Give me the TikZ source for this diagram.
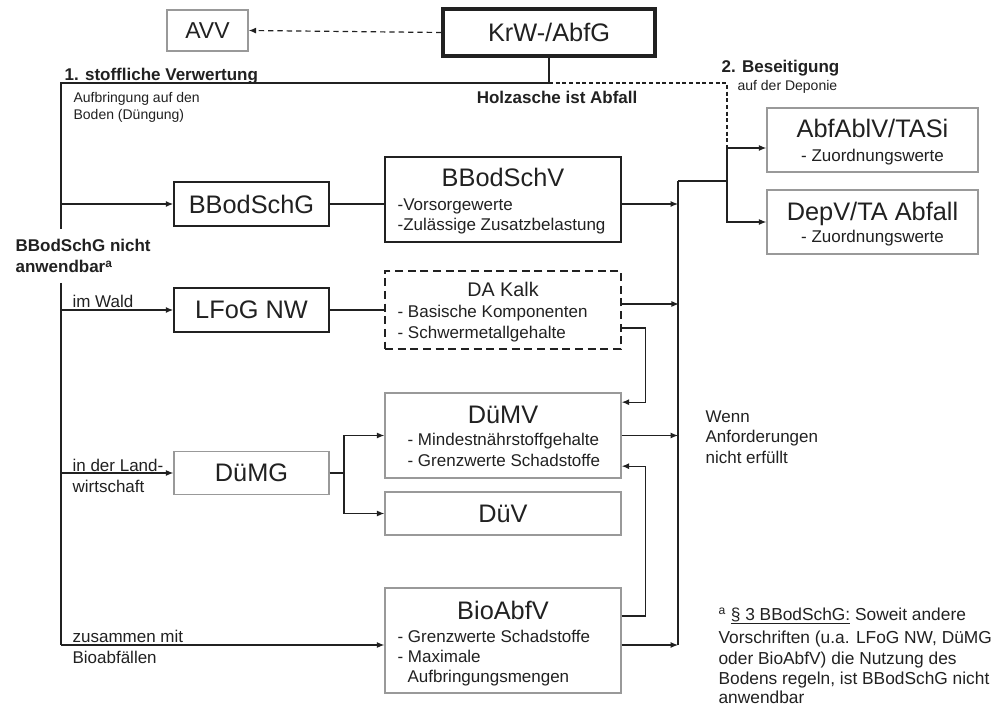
\documentclass[tikz,border=0pt]{standalone}
\usepackage{fontspec}
\setmainfont{Liberation Sans}
\usetikzlibrary{arrows.meta}
\definecolor{boxgray}{gray}{0.6}
\definecolor{inkgray}{gray}{0.13}
\begin{document}
\begin{tikzpicture}[x=0.75pt,y=-0.75pt,line width=0.9pt,color=inkgray,
	>={Latex[length=5.5pt,width=4.5pt]},
	lbox/.style={draw=boxgray,line width=1.1pt,inner sep=0pt},
	dbox/.style={draw=inkgray,line width=1.2pt,inner sep=0pt},
	txt/.style={anchor=base west,inner sep=0pt,font=\fontsize{12.75}{15}\selectfont},
	ctxt/.style={txt,anchor=base},
	big/.style={font=\fontsize{19}{23}\selectfont},
	bold/.style={font=\fontsize{12.75}{15}\selectfont\bfseries},
	small/.style={font=\fontsize{10.5}{13}\selectfont},
	note/.style={font=\fontsize{13}{16}\selectfont},
	dash1/.style={dash pattern=on 4pt off 3pt},
	dash2/.style={dash pattern=on 3pt off 2pt}]
\def\u{0.75pt}
\useasboundingbox[fill=white] (0,0) rectangle (1003,705);

% boxes
\node[lbox,font=\fontsize{17.25}{20}\selectfont,minimum width=81*\u,minimum height=41*\u] (avv) at (207.5,30.5) {AVV};
\node[dbox,line width=2.4pt,big,minimum width=212*\u,minimum height=47*\u] (krw) at (549,32.5) {KrW-/AbfG};
\node[lbox,minimum width=211*\u,minimum height=64*\u] (tasi) at (872.5,140) {};
\node[lbox,minimum width=211*\u,minimum height=64*\u] (depv) at (872.5,222) {};
\node[dbox,big,minimum width=155*\u,minimum height=44*\u] (bbg) at (251.5,204) {BBodSchG};
\node[dbox,minimum width=236*\u,minimum height=85*\u] (bbv) at (503,199.5) {};
\node[dbox,big,minimum width=155*\u,minimum height=44*\u] (lfog) at (251.5,310) {LFoG NW};
\node[dbox,dash pattern=on 6pt off 3.5pt,minimum width=236*\u,minimum height=78*\u] (kalk) at (503,310) {};
\node[lbox,minimum width=236*\u,minimum height=85*\u] (duemv) at (503,435.5) {};
\node[lbox,big,minimum width=155*\u,minimum height=43*\u] (duemg) at (251.5,473) {DüMG};
\node[lbox,big,minimum width=236*\u,minimum height=43*\u] (duev) at (503,513.5) {DüV};
\node[lbox,minimum width=236*\u,minimum height=105*\u] (bio) at (503,640.5) {};

% box texts
\node[ctxt,big] (tasiT) at (872.5,138) {AbfAblV/TASi};
\node[ctxt] (tasiA) at (872.5,162) {- Zuordnungswerte};
\node[ctxt,big] (depvT) at (872.5,221) {DepV/TA Abfall};
\node[ctxt] (depvA) at (872.5,243) {- Zuordnungswerte};
\node[ctxt,big] (bbvT) at (503,187) {BBodSchV};
\node[txt] (bbvA) at (397,211) {-Vorsorgewerte};
\node[txt] (bbvB) at (397,231) {-Zulässige Zusatzbelastung};
\node[ctxt,font=\fontsize{14.8}{18}\selectfont] (kalkT) at (503,297) {DA Kalk};
\node[txt] (kalkA) at (397,318) {- Basische Komponenten};
\node[txt] (kalkB) at (397,339) {- Schwermetallgehalte};
\node[ctxt,big] (duemvT) at (503,424) {DüMV};
\node[txt] (duemvA) at (407,446) {- Mindestnährstoffgehalte};
\node[txt] (duemvB) at (407,467) {- Grenzwerte Schadstoffe};
\node[ctxt,big] (bioT) at (503,619) {BioAbfV};
\node[txt] (bioA) at (397,642) {- Grenzwerte Schadstoffe};
\node[txt] (bioB) at (397,662) {- Maximale};
\node[txt] (bioC) at (407,682) {Aufbringungsmengen};

% labels
\node[txt,bold] (stoff) at (64,81) {1. stoffliche Verwertung};
\node[txt,small] (aufA) at (73,103) {Aufbringung auf den};
\node[txt,small] (aufB) at (73,120) {Boden (Düngung)};
\node[txt,bold,anchor=base east] (holz) at (638,104) {Holzasche ist Abfall};
\node[txt,bold] (bes) at (721,73) {2. Beseitigung};
\node[txt,small] (dep) at (737,91) {auf der Deponie};
\node[txt,bold] (nichtA) at (15,252) {BBodSchG nicht};
\node[txt,bold] (nichtB) at (15,273) {anwendbar\textsuperscript{a}};
\node[txt] (wald) at (72,308) {im Wald};
\node[txt] (landA) at (72,472) {in der Land-};
\node[txt] (landB) at (72,493) {wirtschaft};
\node[txt] (zusA) at (72,642) {zusammen mit};
\node[txt] (zusB) at (72,663) {Bioabfällen};
\node[txt] (wennA) at (705,423) {Wenn};
\node[txt] (wennB) at (705,443) {Anforderungen};
\node[txt] (wennC) at (705,464) {nicht erfüllt};

% footnote
\node[txt,note] (fnA) at (718,620) {\textsuperscript{a} \underline{§ 3 BBodSchG:} Soweit andere};
\node[txt,note] (fnB) at (718,643) {Vorschriften (u.a. LFoG NW, DüMG};
\node[txt,note] (fnC) at (718,664) {oder BioAbfV) die Nutzung des};
\node[txt,note] (fnD) at (718,684) {Bodens regeln, ist BBodSchG nicht};
\node[txt,note] (fnE) at (718,703) {anwendbar};

% trunk points
\coordinate (jt) at (549,83);
\coordinate (tl) at (61,83);
\coordinate (tb) at (61,229);
\coordinate (tt) at (61,283);
\coordinate (te) at (61,645);
\coordinate (jr) at (727,83);
\coordinate (rs) at (727,148);
\coordinate (rj) at (678,181);
\coordinate (rk) at (727,181);
\coordinate (re) at (678,645);
\coordinate (fk) at (344,473);

% connectors
\draw[dash1,->] (krw.west) -- (avv.east);
\draw (krw.south) -- (jt) -- (tl) -- (tb);
\draw (tt) -- (te);
\draw[dash2] (jt) -- (jr) -- (rs);
\draw[->] (tl |- bbg) -- (bbg.west);
\draw[->] (tl |- lfog) -- (lfog.west);
\draw[->] (tl |- duemg) -- (duemg.west);
\draw[->] (te) -- (te -| bio.west);
\draw (bbg.east) -- (bbv.west |- bbg);
\draw (lfog.east) -- (kalk.west);
\draw (duemg.east) -- (fk);
\draw[->] (fk) |- (duemv.west);
\draw[->] (fk) |- (duev.west);
\draw[->] (bbv.east |- bbg) -- (rj |- bbg);
\draw[->] ([yshift=4.5pt]kalk.east) -- ++(57,0);
\draw[->] ([yshift=-13.5pt]kalk.east) -- ++(24,0) |- ([yshift=25pt]duemv.east);
\draw[->] ([yshift=18.4pt]bio.east) -- ++(24,0) |- ([yshift=-23pt]duemv.east);
\draw[->] (duemv.east) -- (duemv.east -| rj);
\draw[->] (bio.east |- te) -- (te -| rj);
\draw (rj) -- (re);
\draw (rj) -- (rk);
\draw (rs) -- (rk |- depv);
\draw[->] (rs) -- (rs -| tasi.west);
\draw[->] (rk) |- (depv.west);
\end{tikzpicture}
\end{document}
